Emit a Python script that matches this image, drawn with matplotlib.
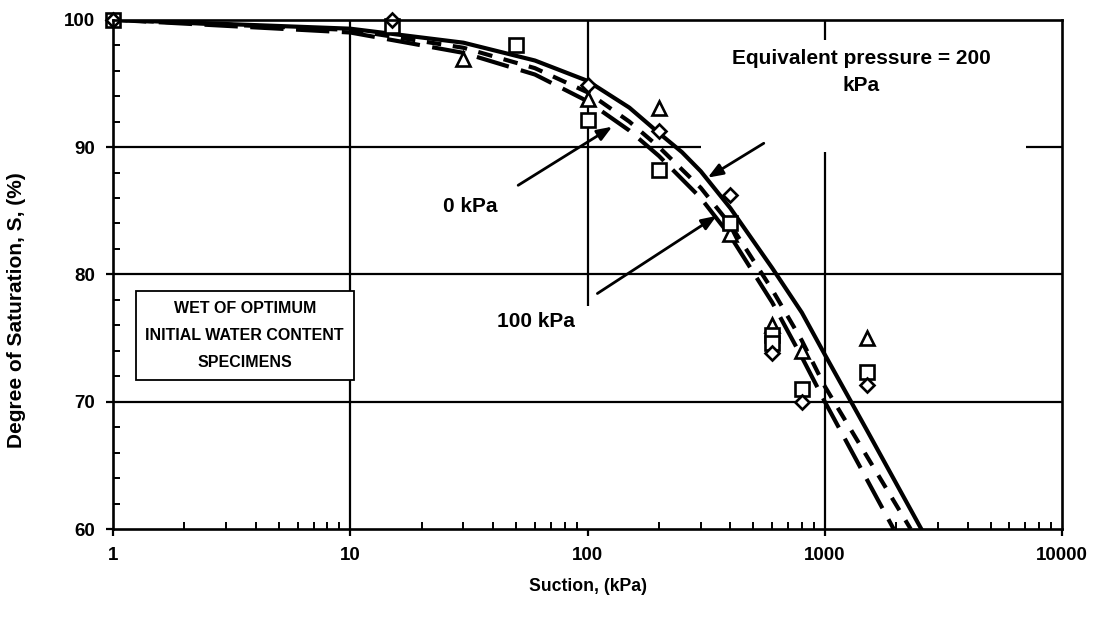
import numpy as np
import matplotlib
matplotlib.use("Agg")
import matplotlib.pyplot as plt
from matplotlib.patches import Rectangle
from matplotlib.ticker import FixedLocator, LogLocator, NullFormatter, FormatStrFormatter

plt.rcParams['font.family'] = ['Liberation Sans', 'DejaVu Sans']

# fitted curves, one per equivalent pressure
curve_0_x = [1, 10, 30, 60, 100, 150, 200, 300, 400, 600, 800, 1000, 1950]
curve_0_y = [100, 99.0, 97.4, 95.7, 93.6, 91.3, 89.3, 86.0, 83.0, 77.8, 73.5, 70.0, 60.0]
curve_100_x = [1, 10, 30, 60, 100, 150, 200, 300, 400, 600, 800, 1000, 2300]
curve_100_y = [100, 99.2, 97.8, 96.2, 94.3, 92.0, 90.0, 86.8, 83.9, 78.8, 74.8, 71.2, 60.0]
curve_200_x = [1, 10, 30, 60, 100, 150, 200, 250, 300, 400, 600, 800, 1000, 1500, 2550]
curve_200_y = [100, 99.3, 98.2, 96.8, 95.2, 93.1, 91.1, 89.6, 88.1, 85.2, 80.5, 77.0, 73.7, 67.8, 60.0]

# measured points
tri_x = [30, 100, 200, 400, 600, 800, 1500]
tri_y = [96.9, 93.8, 93.1, 83.2, 76.0, 74.0, 75.0]
sq_x = [1, 15, 50, 100, 200, 400, 600, 600, 800, 1500]
sq_y = [100, 99.5, 98.0, 92.1, 88.2, 84.0, 75.2, 74.6, 71.0, 72.3]
dia_x = [1, 15, 100, 200, 400, 600, 800, 1500]
dia_y = [100, 100, 94.9, 91.3, 86.2, 73.8, 70.0, 71.3]

x_ticks = [1, 10, 100, 1000, 10000]
y_ticks = [60, 70, 80, 90, 100]

fig = plt.figure(figsize=(11.11, 6.18), dpi=100)
ax = fig.add_axes([0.1017, 0.144, 0.8543, 0.824])

ax.set_xscale('log')
ax.set_xlim(1, 10000)
ax.set_ylim(60, 100)

# grid: horizontal full, vertical drawn by hand (text boxes hide parts)
for y in y_ticks[1:-1]:
    ax.axhline(y, color='black', lw=1.6, zorder=1)
ax.vlines(10, 60, 100, color='black', lw=1.6, zorder=1)
ax.vlines(100, 77.5, 100, color='black', lw=1.6, zorder=1)
ax.vlines(1000, 60, 100, color='black', lw=1.6, zorder=1)
ax.add_patch(Rectangle((300, 89.6), 6750, 8.8, fc='white', ec='none', zorder=1.5))

ax.plot(curve_0_x, curve_0_y, color='black', lw=3, dashes=(8, 3), zorder=3)
ax.plot(curve_100_x, curve_100_y, color='black', lw=3, dashes=(3.5, 2.8), zorder=3)
ax.plot(curve_200_x, curve_200_y, color='black', lw=3, zorder=3)

mk = dict(ls='none', mfc='white', mec='black', mew=1.9, zorder=4, clip_on=False)
ax.plot(tri_x, tri_y, marker='^', ms=9.5, **mk)
ax.plot(sq_x, sq_y, marker='s', ms=9.5, **mk)
ax.plot(dia_x, dia_y, marker='D', ms=7.5, **mk)

ax.xaxis.set_major_locator(FixedLocator(x_ticks))
ax.xaxis.set_major_formatter(FormatStrFormatter('%d'))
ax.xaxis.set_minor_locator(LogLocator(base=10, subs=np.arange(2, 10)))
ax.xaxis.set_minor_formatter(NullFormatter())
ax.yaxis.set_major_locator(FixedLocator(y_ticks))
ax.yaxis.set_minor_locator(FixedLocator(np.arange(62, 100, 2)))

for s in ax.spines.values():
    s.set_linewidth(1.9)
    s.set_zorder(5)
ax.tick_params(which='major', direction='out', length=5, width=1.6, labelsize=13.5, pad=8)
ax.tick_params(which='minor', direction='in', length=5, width=1.4)
for lab in ax.get_xticklabels() + ax.get_yticklabels():
    lab.set_fontweight('bold')

ax.set_xlabel('Suction, (kPa)', fontsize=12.7, fontweight='bold', labelpad=10)
ax.set_ylabel('Degree of Saturation, S, (%)', fontsize=15, fontweight='bold', labelpad=24)
ax.yaxis.set_label_coords(-0.092, 0.43)

box = dict(boxstyle='square,pad=0.6', fc='white', ec='black', lw=1.3)
ax.text(3.59, 75.2, 'WET OF OPTIMUM\nINITIAL WATER CONTENT\nSPECIMENS', ha='center', va='center',
        fontsize=11.5, fontweight='bold', linespacing=2.0, bbox=box, zorder=5)

ax.text(1419, 95.9, 'Equivalent pressure = 200\nkPa', ha='center', va='center', fontsize=15,
        fontweight='bold', linespacing=1.5, zorder=2)
ax.text(32, 85.3, '0 kPa', ha='center', va='center', fontsize=15, fontweight='bold', zorder=5)
ax.text(60.4, 76.3, '100 kPa', ha='center', va='center', fontsize=15, fontweight='bold', zorder=5)

arr = dict(arrowstyle='-|>,head_length=0.9,head_width=0.35', color='black', lw=2, shrinkA=0, shrinkB=0)
ax.annotate('', xy=(321, 87.6), xytext=(553, 90.3), arrowprops=arr, zorder=6)
ax.annotate('', xy=(127, 91.6), xytext=(51, 87.0), arrowprops=arr, zorder=6)
ax.annotate('', xy=(350, 84.6), xytext=(110, 78.5), arrowprops=arr, zorder=6)

fig.savefig('out.png', dpi=100)
